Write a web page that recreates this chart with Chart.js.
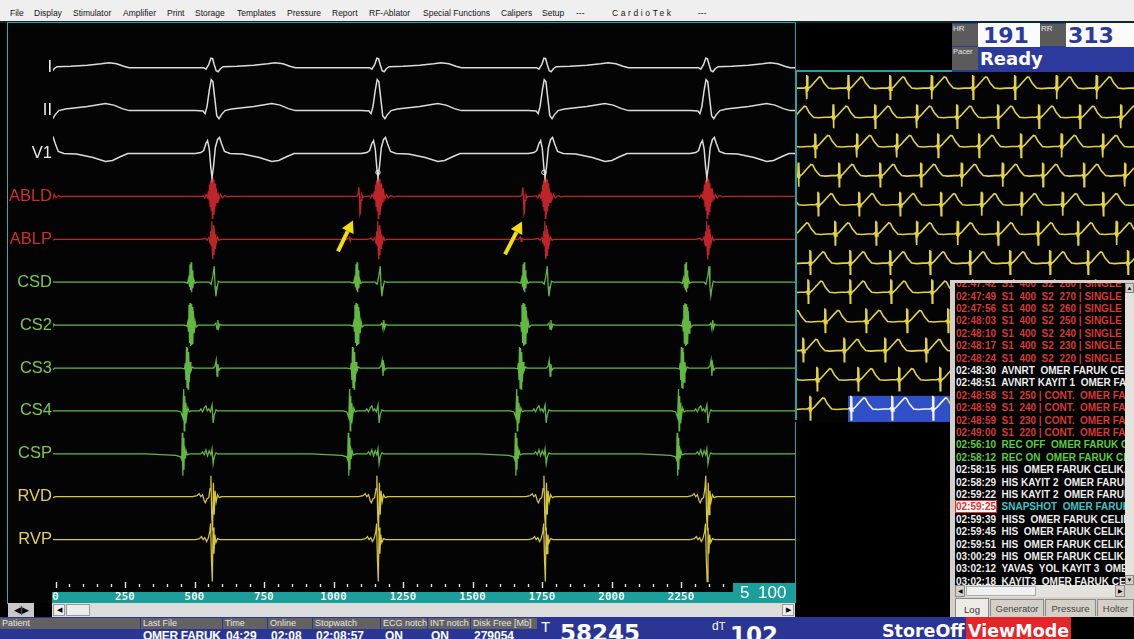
<!DOCTYPE html>
<html lang="tr">
<head>
<meta charset="UTF-8">
<meta name="viewport" content="width=device-width, initial-scale=1.0">
<title>CardioTek - Kayıt</title>
<script src="https://cdn.jsdelivr.net/npm/chart.js"></script>
<style>
    html, body { margin: 0; padding: 0; }
    body { width: 1134px; height: 639px; background: #000; position: relative; overflow: hidden;
           font-family: "Liberation Sans", Arial, sans-serif; }
    .abs { position: absolute; }
    .t1 { line-height: 1; white-space: nowrap; }

    /* menu */
    #menu { left: 0; top: 0; width: 1134px; height: 21px; background: #efefef; }
    #menu span { position: absolute; top: 9px; font-size: 8.5px; line-height: 1; color: #151515; white-space: nowrap; }

    /* HR / RR kutusu */
    #hr { left: 952px; top: 23px; width: 182px; height: 49px; background: #2b3a9c; }
    #hr .lbl { position: absolute; background: #5b5b5b; color: #e8e8e8; font-size: 8px; line-height: 1; padding: 1px 0 0 1px; box-sizing: border-box; }
    #hr .wb { position: absolute; background: #fbfbfb; color: #2b3a9c; font: bold 22px "DejaVu Sans"; line-height: 1; box-sizing: border-box; }

    /* log */
    #log { left: 950px; top: 280px; width: 184px; height: 337px; background: #d4d0c8; }
    #logText { position: absolute; left: 5px; top: 3px; width: 170px; height: 302px; background: #000; overflow: hidden; }
    #logText div { position: absolute; left: 1px; height: 12.4px; line-height: 12.4px; font: bold 10px "Liberation Sans"; white-space: pre; }
    .tab { position: absolute; top: 319px; height: 17px; background: #d4d0c8; border: 1px solid #8a8a8a; border-bottom: none;
           font-size: 9.5px; color: #444; line-height: 17px; text-align: center; box-sizing: border-box; }

    /* durum cubugu */
    #status { left: 0; top: 617px; width: 1071px; height: 22px; background: #2b3594; overflow: hidden; }
    #status .h { position: absolute; top: 1px; height: 11px; background: #626262; color: #e6e6e6; font-size: 9px; line-height: 11px; padding-left: 2px; box-sizing: border-box; white-space: nowrap; }
    #status .v { position: absolute; top: 12.5px; color: #fff; font: bold 12px "Liberation Sans"; line-height: 1; white-space: nowrap; }
</style>
</head>
<body>

<!-- ust menu -->
<div id="menu" class="abs">
    <span style="left:10px">File</span>
    <span style="left:34px">Display</span>
    <span style="left:73px">Stimulator</span>
    <span style="left:123px">Amplifier</span>
    <span style="left:167px">Print</span>
    <span style="left:195px">Storage</span>
    <span style="left:237px">Templates</span>
    <span style="left:287px">Pressure</span>
    <span style="left:332px">Report</span>
    <span style="left:369px">RF-Ablator</span>
    <span style="left:423px">Special Functions</span>
    <span style="left:501px">Calipers</span>
    <span style="left:542px">Setup</span>
    <span style="left:576px">---</span>
    <span style="left:612px; letter-spacing:2.6px">CardioTek</span>
    <span style="left:698px">---</span>
</div>
<div class="abs" style="left:0;top:21px;width:1134px;height:2px;background:#0c2a2a"></div>
<div class="abs" style="left:7px;top:22px;width:789px;height:1px;background:#2aa0a0"></div>

<!-- ana kayit -->
<div class="abs" style="left:7px;top:22px;width:1px;height:582px;background:#3aa6aa"></div>
<canvas id="mainChart" class="abs" width="787" height="580" style="left:8px;top:23px"></canvas>
<div class="abs" style="left:795px;top:23px;width:1px;height:580px;background:#2aa0a0"></div>

<!-- alt kaydirma cubugu -->
<div class="abs" style="left:8px;top:603px;width:26px;height:14px;background:#c8c8c8;font-size:9px;line-height:14px;color:#000;text-align:center;letter-spacing:-1px">◀|▶</div>
<div class="abs" style="left:52px;top:603px;width:743px;height:14px;background:#dcdcdc"></div>
<div class="abs" style="left:53px;top:604px;width:12px;height:12px;background:#ececec;border:1px solid #9a9a9a;box-sizing:border-box;font-size:7px;line-height:10px;text-align:center;color:#000">◀</div>
<div class="abs" style="left:66px;top:604px;width:24px;height:12px;background:#ececec;border:1px solid #9a9a9a;box-sizing:border-box"></div>
<div class="abs" style="left:782px;top:604px;width:12px;height:12px;background:#ececec;border:1px solid #9a9a9a;box-sizing:border-box;font-size:7px;line-height:10px;text-align:center;color:#000">▶</div>

<!-- HR kutusu -->
<div id="hr" class="abs">
    <div class="lbl" style="left:0;top:1px;width:26px;height:22px">HR</div>
    <div class="wb" style="left:26px;top:0;width:62px;height:24px;padding:2px 0 0 5px">191</div>
    <div class="lbl" style="left:88px;top:1px;width:26px;height:22px">RR</div>
    <div class="wb" style="left:114px;top:0;width:68px;height:24px;padding:2px 0 0 2px">313</div>
    <div class="lbl" style="left:0;top:24px;width:26px;height:23px;font-size:7.5px">Pacer</div>
    <div class="abs t1" style="left:28px;top:26.5px;color:#fff;font:bold 18px 'DejaVu Sans';line-height:1">Ready</div>
</div>

<!-- kucuk ritim penceresi -->
<canvas id="miniChart" class="abs" width="339" height="350" style="left:795px;top:72px"></canvas>
<div class="abs" style="left:795px;top:70px;width:157px;height:2px;background:#2aa0a0"></div>
<div class="abs" style="left:795px;top:70px;width:2px;height:350px;background:#2aa0a0"></div>

<!-- log paneli -->
<div id="log" class="abs">
    <div id="logText"></div>
    <div class="abs" style="left:175px;top:3px;width:9px;height:302px;background:#e4e2dc"></div>
    <div class="abs" style="left:175px;top:3px;width:9px;height:10px;background:#d4d0c8;border:1px solid #888;box-sizing:border-box;font-size:6px;line-height:8px;text-align:center">▲</div>
    <div class="abs" style="left:175px;top:295px;width:9px;height:10px;background:#d4d0c8;border:1px solid #888;box-sizing:border-box;font-size:6px;line-height:8px;text-align:center">▼</div>
    <div class="abs" style="left:5px;top:305px;width:170px;height:12px;background:#e4e2dc"></div>
    <div class="abs" style="left:5px;top:305px;width:10px;height:12px;background:#d4d0c8;border:1px solid #888;box-sizing:border-box;font-size:6px;line-height:10px;text-align:center">◀</div>
    <div class="abs" style="left:16px;top:306px;width:70px;height:10px;background:#f0f0f0;border:1px solid #aaa;box-sizing:border-box"></div>
    <div class="abs" style="left:165px;top:305px;width:10px;height:12px;background:#d4d0c8;border:1px solid #888;box-sizing:border-box;font-size:6px;line-height:10px;text-align:center">▶</div>
    <div class="tab" style="left:5px;top:318px;height:19px;width:34px;background:#ecebe6;color:#333;line-height:21px">Log</div>
    <div class="tab" style="left:40px;width:54px">Generator</div>
    <div class="tab" style="left:95px;width:51px">Pressure</div>
    <div class="tab" style="left:147px;width:37px">Holter</div>
</div>

<!-- durum cubugu -->
<div id="status" class="abs">
    <div class="h" style="left:0;width:140px">Patient</div>
    <div class="h" style="left:141px;width:81px">Last File</div>
    <div class="h" style="left:223px;width:44px">Time</div>
    <div class="h" style="left:268px;width:44px">Online</div>
    <div class="h" style="left:313px;width:67px">Stopwatch</div>
    <div class="h" style="left:381px;width:46px">ECG notch</div>
    <div class="h" style="left:428px;width:42px">INT notch</div>
    <div class="h" style="left:471px;width:66px">Disk Free [Mb]</div>
    <div class="v" style="left:143px;width:80px;overflow:hidden;letter-spacing:-0.3px">OMER FARUK CELIK</div>
    <div class="v" style="left:226px">04:29</div>
    <div class="v" style="left:271px">02:08</div>
    <div class="v" style="left:316px">02:08:57</div>
    <div class="v" style="left:385px">ON</div>
    <div class="v" style="left:431px">ON</div>
    <div class="v" style="left:474px">279054</div>
    <div class="abs t1" style="left:541px;top:2px;color:#fff;font-size:15px">T</div>
    <div class="abs t1" style="left:560px;top:3px;color:#fff;font:bold 23px 'DejaVu Sans'">58245</div>
    <div class="abs t1" style="left:712px;top:2.5px;color:#fff;font-size:12px">d<span style="font-size:11px">T</span></div>
    <div class="abs t1" style="left:730px;top:5px;color:#fff;font:bold 23px 'DejaVu Sans'">102</div>
    <div class="abs t1" style="left:882px;top:3.7px;color:#fff;font:bold 17.5px 'DejaVu Sans'">StoreOff</div>
    <div class="abs" style="left:966px;top:0;width:105px;height:22px;background:#e2262a"></div>
    <div class="abs t1" style="left:968px;top:3.7px;color:#fff;font:bold 17.5px 'DejaVu Sans'">ViewMode</div>
</div>

<script>
    // ---------------- Ana kayit verisi (ms / piksel genligi) ----------------
    const channelNames = ['I', 'II', 'V1', 'ABLD', 'ABLP', 'CSD', 'CS2', 'CS3', 'CS4', 'CSP', 'RVD', 'RVP'];
    const qrsTimes = [-35, 563, 1160, 1761, 2343];       // ventrikul vurulari
    const ablExtraTimes = [1095, 1685];                  // oklarla gosterilen ek potansiyel
    const ablpExtraTimes = [1059, 1674];
    const markerTimes = [1160, 1757];
    const xTickLabels = [0, 250, 500, 750, 1000, 1250, 1500, 1750, 2000, 2250];
    const arrowTips = [[1070, -24], [1678, -25]];        // [ms, ABLD tabanina gore genlik]
    const arrowTails = [[1016, -55], [1617, -58]];

    // her kanal icin vuru sekli: [QRS'e gore ms, genlik]
    const waveI = [[-60,0],[-30,0],[-22,-1.5],[-12,3],[-4,9.5],[2,9],[8,3],[15,-3],[22,-4],[30,-1],[40,1],[90,1.5],[150,2.5],[200,4],[227,5],[255,4],[280,1.5],[300,0]];
    const waveII = [[-60,0],[-32,-0.5],[-25,-3],[-18,4],[-10,20],[-3,31],[3,29],[10,12],[17,-5],[25,-8],[34,-4],[47,0],[70,1.5],[150,4],[215,7],[245,5.5],[275,2],[300,0]];
    const waveV1 = [[-60,0],[-40,1],[-30,3],[-22,10],[-16,13],[-10,5],[-4,-15],[0,-24],[5,-14],[12,6],[20,14],[27,16],[34,10],[45,2],[65,0],[110,-0.5],[170,-4],[215,-8],[240,-7],[270,-3],[295,0]];
    const waveABLD = [[-45,0],[-32,0.5],[-26,-1.5],[-21,2],[-16,-1],[-13,5],[-11,-4],[-9,12],[-7,-10],[-5,16],[-3,-14],[-1,22],[1,-22],[3,19],[5,-18],[7,17],[9,-15],[11,13],[13,-10],[15,8],[18,-6],[21,4],[25,-3],[30,2],[37,-1.5],[46,1],[56,-0.5],[66,0]];
    const waveABLDExtra = [[-12,0],[-7,1.5],[-4,9],[-2,2],[0,-18],[2,-16],[4,-4],[7,2],[11,-1],[15,0]];
    const waveABLP = [[-40,0],[-25,1],[-18,-1],[-11,2],[-7,-4],[-5,8],[-3,-6],[-1,18],[1,-12],[3,-20],[5,14],[7,-16],[9,10],[11,-9],[13,5],[16,-3],[20,2],[25,-1],[32,0]];
    const waveABLPExtra = [[-10,0],[-5,1.5],[-2,2.5],[1,-2],[4,1],[9,0]];
    const waveCSD = [[-100,0],[-88,-1],[-84,4],[-81,-5],[-79,18],[-77,-8],[-75,20],[-73,-10],[-71,12],[-69,-6],[-66,3],[-62,-1],[-56,0],[-10,0],[-3,-2],[3,6],[8,16],[11,-4],[14,-14],[18,-6],[23,1],[30,0]];
    const waveCS2 = [[-100,0],[-90,-1],[-87,3],[-85,-6],[-83,20],[-81,-18],[-79,22],[-77,-21],[-75,21],[-73,-20],[-71,18],[-69,-19],[-67,14],[-64,-8],[-61,4],[-57,-2],[-50,0],[8,0],[14,2],[18,-4],[21,5],[24,-3],[28,1],[34,0]];
    const waveCS3 = [[-110,0],[-99,-1],[-96,5],[-94,-12],[-92,21],[-90,-20],[-88,20],[-86,-21],[-84,16],[-82,-14],[-79,6],[-76,-3],[-71,1],[-65,0],[5,0],[11,2],[15,8],[18,-8],[21,4],[25,-2],[31,0]];
    const waveCS4 = [[-125,0],[-112,-1],[-105,-7],[-102,22],[-100,-20],[-98,15],[-96,-12],[-94,8],[-91,-5],[-87,3],[-82,-1],[-75,0],[-45,0],[-40,2],[-34,-1],[-28,3],[-22,5],[-17,0],[-12,2],[-6,-1],[0,6],[4,-12],[8,-4],[14,1],[20,0]];
    const waveCSP = [[-240,0],[-130,-1.5],[-113,-3],[-109,-6],[-107,21],[-105,-22],[-103,16],[-101,-16],[-99,8],[-96,-5],[-93,3],[-89,-1],[-80,0],[-40,0],[-34,2],[-28,-1],[-22,4],[-16,-2],[-10,3],[-4,-1],[0,5],[4,-10],[8,-3],[14,1],[20,0]];
    const waveRVD = [[-70,0],[-54,1],[-46,3],[-40,0],[-34,2],[-28,-4],[-24,-6],[-18,-2],[-12,-1],[-7,8],[-4,21],[-1,-20],[2,-34],[5,14],[8,-18],[11,6],[15,-5],[20,2],[26,-1],[35,0]];
    const waveRVP = [[-60,0],[-45,1],[-38,3],[-32,0],[-26,2],[-20,-2],[-14,1],[-8,8],[-5,16],[-2,-20],[1,-42],[4,12],[7,-14],[10,5],[14,-3],[20,1],[28,0]];

    // ---------------- Kucuk ritim penceresi (ms) ----------------
    const miniBeat = [[-20,0],[-8,1],[-4,-2],[-1,13],[2,-11],[5,12],[8,-2],[15,0],[30,1.5],[60,6],[95,11],[108,10.5],[130,5],[163,0],[200,-0.5],[250,0]];
    const miniRowBeats = [
        [-225, 88, 400, 713, 1025, 1335, 1650, 1963, 2263, 2573],
        [-25, 287, 600, 913, 1215, 1523, 1830, 2138, 2445],
        [-160, 150, 463, 763, 1073, 1380, 1695, 2000, 2310],
        [25, 330, 638, 945, 1250, 1558, 1860, 2168, 2475],
        [-135, 173, 480, 788, 1095, 1400, 1700, 2008, 2313],
        [-8, 300, 608, 913, 1220, 1523, 1823, 2123, 2413],
        [-195, 113, 413, 713, 1013, 1313, 1613, 1913, 2198, 2498],
        [-210, 98, 413, 720, 1028, 1335, 1643, 1950, 2258],
        [-83, 225, 533, 840, 1148, 1455, 1763, 2070, 2378],
        [-248, 60, 368, 675, 983, 1290, 1598, 1905, 2213, 2520],
        [-143, 165, 473, 780, 1088, 1395, 1703, 2010, 2318],
        [-195, 113, 420, 728, 1035, 1343, 1650, 1958, 2265]
    ];
    const miniHighlight = [398, 1163];   // son satirda secili bolge (ms)

    // ---------------- Log satirlari ----------------
    const logLines = [
        ['02:47:42', '  S1  400  S2  280 | SINGLE  OMER', 'r'],
        ['02:47:49', '  S1  400  S2  270 | SINGLE  OMER', 'r'],
        ['02:47:56', '  S1  400  S2  260 | SINGLE  OMER', 'r'],
        ['02:48:03', '  S1  400  S2  250 | SINGLE  OMER', 'r'],
        ['02:48:10', '  S1  400  S2  240 | SINGLE  OMER', 'r'],
        ['02:48:17', '  S1  400  S2  230 | SINGLE  OMER', 'r'],
        ['02:48:24', '  S1  400  S2  220 | SINGLE  OMER', 'r'],
        ['02:48:30', '  AVNRT  OMER FARUK CELIK', 'w'],
        ['02:48:51', '  AVNRT KAYIT 1  OMER FARUK', 'w'],
        ['02:48:58', '  S1  250 | CONT.  OMER FARUK', 'r'],
        ['02:48:59', '  S1  240 | CONT.  OMER FARUK', 'r'],
        ['02:48:59', '  S1  230 | CONT.  OMER FARUK', 'r'],
        ['02:49:00', '  S1  220 | CONT.  OMER FARUK', 'r'],
        ['02:56:10', '  REC OFF  OMER FARUK CELIK', 'g'],
        ['02:58:12', '  REC ON  OMER FARUK CELIK', 'g'],
        ['02:58:15', '  HIS  OMER FARUK CELIK.0', 'w'],
        ['02:58:29', '  HIS KAYIT 2  OMER FARUK', 'w'],
        ['02:59:22', '  HIS KAYIT 2  OMER FARUK', 'w'],
        ['02:59:25', '  SNAPSHOT  OMER FARUK', 'c'],
        ['02:59:39', '  HISS  OMER FARUK CELIK', 'w'],
        ['02:59:45', '  HIS  OMER FARUK CELIK.0', 'w'],
        ['02:59:51', '  HIS  OMER FARUK CELIK.0', 'w'],
        ['03:00:29', '  HIS  OMER FARUK CELIK.0', 'w'],
        ['03:02:12', '  YAVAŞ  YOL KAYIT 3  OMER', 'w'],
        ['03:02:18', '  KAYIT3  OMER FARUK CELIK', 'w']
    ];

    // ---------------- stiller ----------------
    const traceColors = ['#dcdcdc','#dcdcdc','#dcdcdc','#bf2528','#bf2528','#63b842','#63b842','#63b842','#63b842','#63b842','#d6c63e','#d6c63e'];
    const labelColors = ['#ececec','#ececec','#ececec','#d42b2b','#d42b2b','#7ccd48','#7ccd48','#7ccd48','#7ccd48','#7ccd48','#e6d34a','#e6d34a'];
    const logColors = { r: '#d83a33', w: '#ededed', g: '#5ccd3c', c: '#3cc6c6' };

    // Y ekseni: 1 birim = 1 piksel, kanal tabanlari 42.9 px aralikli
    const Y_MAX = 568;
    const baselines = channelNames.map((_, i) => Y_MAX - 44.7 - i * 42.9);

    const channelWaves = [waveI, waveII, waveV1, waveABLD, waveABLP, waveCSD, waveCS2, waveCS3, waveCS4, waveCSP, waveRVD, waveRVP];
    const channelExtras = { 3: [ablExtraTimes, waveABLDExtra], 4: [ablpExtraTimes, waveABLPExtra] };

    function buildTrace(base, events, xFrom, xTo) {
        const pts = [{ x: xFrom, y: base }];
        events.forEach(([times, wave]) => {
            times.forEach(t => wave.forEach(([dt, a]) => pts.push({ x: t + dt, y: base + a })));
        });
        pts.push({ x: xTo, y: base });
        pts.sort((a, b) => a.x - b.x);
        return pts;
    }

    const mainDatasets = channelNames.map((name, i) => {
        const events = [[qrsTimes, channelWaves[i]]];
        if (channelExtras[i]) events.push(channelExtras[i]);
        return {
            label: name,
            data: buildTrace(baselines[i], events, -60, 2720),
            borderColor: traceColors[i],
            borderWidth: i < 3 ? 1.5 : 1.25,
            pointRadius: 0,
            tension: 0,
            fill: false
        };
    });
    mainDatasets.push({
        label: 'marker',
        type: 'scatter',
        data: markerTimes.map(t => ({ x: t, y: baselines[3] + 24 })),
        pointRadius: 2.2,
        pointBorderColor: '#e8e8e8',
        pointBackgroundColor: 'rgba(0,0,0,0)',
        pointBorderWidth: 1
    });

    // eksen bandi, tik isaretleri ve oklar
    const axisBand = {
        id: 'axisBand',
        beforeDraw(chart) {
            const ctx = chart.ctx;
            ctx.save();
            ctx.fillStyle = '#040404';
            ctx.fillRect(0, 0, chart.width, chart.height);
            ctx.restore();
        },
        afterDraw(chart) {
            const ctx = chart.ctx, xs = chart.scales.x, ys = chart.scales.y, a = chart.chartArea;
            const boxLeft = a.right - 62;
            ctx.save();
            ctx.fillStyle = '#1c9f9a';
            ctx.fillRect(a.left - 1, a.bottom + 1, boxLeft - a.left + 1, 11);
            ctx.fillRect(boxLeft, a.bottom - 8, a.right - boxLeft, 20);

            ctx.strokeStyle = '#e6e6e6';
            ctx.lineWidth = 1.4;
            for (let v = 0; v <= 2400; v += 50) {
                const px = Math.round(xs.getPixelForValue(v)) + 0.5;
                const major = v % 250 === 0;
                ctx.beginPath();
                ctx.moveTo(px, a.bottom - (major ? 9 : 7));
                ctx.lineTo(px, a.bottom - (major ? 3 : 4));
                ctx.stroke();
            }
            ctx.fillStyle = '#f2f4f4';
            ctx.font = 'bold 11px "DejaVu Sans Mono"';
            ctx.textAlign = 'center';
            ctx.textBaseline = 'middle';
            xTickLabels.forEach(v => ctx.fillText(String(v), xs.getPixelForValue(v), a.bottom + 6.5));

            ctx.font = '17px "Liberation Sans"';
            ctx.textAlign = 'left';
            ctx.fillStyle = '#ffffff';
            ctx.fillText('5', boxLeft + 7, a.bottom + 2.5);
            ctx.fillText('100', boxLeft + 25, a.bottom + 2.5);

            // oklar
            ctx.fillStyle = '#f3dc0c';
            ctx.strokeStyle = '#f3dc0c';
            arrowTips.forEach((tip, k) => {
                const tail = arrowTails[k];
                const x1 = xs.getPixelForValue(tail[0]), y1 = ys.getPixelForValue(baselines[3] + tail[1]);
                const x2 = xs.getPixelForValue(tip[0]), y2 = ys.getPixelForValue(baselines[3] + tip[1]);
                const ang = Math.atan2(y2 - y1, x2 - x1);
                const hl = 12, hw = 6.5;
                const bx = x2 - hl * Math.cos(ang), by = y2 - hl * Math.sin(ang);
                ctx.lineWidth = 4;
                ctx.beginPath(); ctx.moveTo(x1, y1); ctx.lineTo(bx, by); ctx.stroke();
                ctx.beginPath();
                ctx.moveTo(x2, y2);
                ctx.lineTo(bx + hw * Math.sin(ang), by - hw * Math.cos(ang));
                ctx.lineTo(bx - hw * Math.sin(ang), by + hw * Math.cos(ang));
                ctx.closePath();
                ctx.fill();
            });
            ctx.restore();
        }
    };

    new Chart(document.getElementById('mainChart'), {
        type: 'line',
        data: { datasets: mainDatasets },
        options: {
            responsive: false,
            animation: false,
            devicePixelRatio: 1,
            layout: { autoPadding: false, padding: { left: 0, right: 0, top: 0, bottom: 12 } },
            plugins: { legend: { display: false }, tooltip: { enabled: false } },
            scales: {
                x: { type: 'linear', min: -9, max: 2660, display: false },
                y: {
                    min: 0, max: Y_MAX,
                    afterFit: s => { s.width = 45; s.paddingTop = 0; s.paddingBottom = 0; },
                    afterBuildTicks: s => { s.ticks = baselines.map(v => ({ value: v })); },
                    grid: { display: false, drawTicks: false },
                    border: { display: false },
                    ticks: {
                        autoSkip: false,
                        padding: 1,
                        callback: (v, i) => channelNames[i],
                        color: c => labelColors[c.index],
                        font: { family: 'Liberation Sans', size: 16.5 }
                    }
                }
            }
        },
        plugins: [axisBand]
    });

    // ---------------- kucuk pencere ----------------
    const MINI_H = 348;
    const miniBase = miniRowBeats.map((_, r) => MINI_H - 16 - r * 29);
    const miniDatasets = miniRowBeats.map((beats, r) => ({
        data: buildTrace(miniBase[r], [[beats, miniBeat]], -400, 2900),
        borderColor: '#e2d244',
        borderWidth: 1.6,
        pointRadius: 0,
        tension: 0,
        segment: r === miniRowBeats.length - 1 ? {
            borderColor: c => (c.p0.parsed.x >= miniHighlight[0] && c.p1.parsed.x <= miniHighlight[1]) ? '#f4f4ff' : '#e2d244'
        } : undefined
    }));

    const miniBg = {
        id: 'miniBg',
        beforeDatasetsDraw(chart) {
            const ctx = chart.ctx, xs = chart.scales.x, ys = chart.scales.y;
            const last = miniBase[miniBase.length - 1];
            ctx.save();
            ctx.fillStyle = '#040404';
            ctx.fillRect(0, 0, chart.width, chart.height);
            const x0 = xs.getPixelForValue(miniHighlight[0]), x1 = xs.getPixelForValue(miniHighlight[1]);
            const y0 = ys.getPixelForValue(last + 13), y1 = ys.getPixelForValue(last - 13);
            ctx.fillStyle = '#2f50c6';
            ctx.fillRect(x0, y0, x1 - x0, y1 - y0);
            ctx.restore();
        }
    };

    new Chart(document.getElementById('miniChart'), {
        type: 'line',
        data: { datasets: miniDatasets },
        options: {
            responsive: false,
            animation: false,
            devicePixelRatio: 1,
            layout: { autoPadding: false, padding: 0 },
            plugins: { legend: { display: false }, tooltip: { enabled: false } },
            scales: {
                x: { type: 'linear', min: 0, max: 2545, display: false },
                y: { min: 0, max: MINI_H, display: false }
            }
        },
        plugins: [miniBg]
    });

    // ---------------- log paneli ----------------
    const logBox = document.getElementById('logText');
    logLines.forEach(([time, text, col], i) => {
        const row = document.createElement('div');
        row.style.top = (-4.8 + i * 12.4) + 'px';
        const ts = document.createElement('span');
        ts.textContent = time;
        ts.style.color = col === 'c' ? '#e03030' : logColors[col];
        if (col === 'c') { ts.style.background = '#ffffff'; ts.style.outline = '1px solid #e03030'; }
        const tx = document.createElement('span');
        tx.textContent = text;
        tx.style.color = logColors[col];
        row.appendChild(ts);
        row.appendChild(tx);
        logBox.appendChild(row);
    });
</script>
</body>
</html>
